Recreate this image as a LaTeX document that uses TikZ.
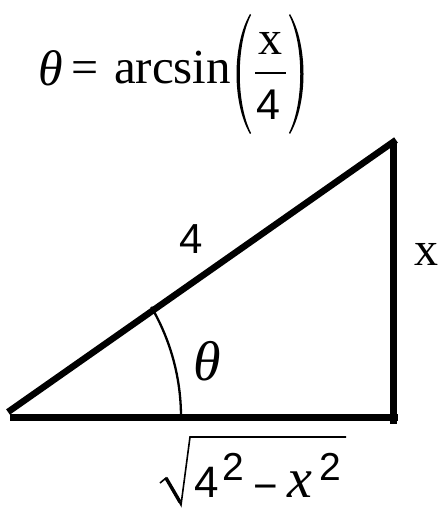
\documentclass[tikz,border=0pt]{standalone}
\usepackage{fontspec}
\setmainfont{Liberation Serif}
\newfontfamily\sansf{Liberation Sans}
\newcommand{\fsz}[1]{\fontsize{#1}{#1}\selectfont}
\begin{document}
\begin{tikzpicture}[x=1pt,y=-1pt,
  txt/.style={inner sep=0pt, outer sep=0pt, anchor=base west},
  heavy/.style={line width=7pt},
  thinarc/.style={line width=2.3pt}]
\useasboundingbox (0,0) rectangle (442,510);
% title
\node[txt, font=\fsz{50}\itshape] (th1) at (38,86) {θ};
\node[txt, font=\fsz{48}] (eq) at (71,84) {=};
\node[txt, font=\fsz{49}] (arcs) at (114,84) {arcsin};
\fill (250,14) .. controls (232,45) and (232,103) .. (250,134) -- (251,133) .. controls (236,103) and (236,45) .. (251,15) -- cycle;
\fill (290,14) .. controls (308,45) and (308,103) .. (290,134) -- (289,133) .. controls (304,103) and (304,45) .. (289,15) -- cycle;
\coordinate (fb1) at (255,73);
\coordinate (fb2) at (286,73);
\draw[line width=2pt] (fb1) -- (fb2);
\node[txt, font=\fsz{48}] (num) at (258,55) {x};
\node[txt, font=\sansf\fsz{43}] (den) at (256,120) {4};
% triangle
\coordinate (A) at (8,412);
\coordinate (T) at (396,140);
\coordinate (L) at (10,417);
\coordinate (R) at (398,417);
\coordinate (V1) at (393,143);
\coordinate (V2) at (393,424);
\draw[line width=6.5pt] (A) -- (T);
\draw[heavy] (V1) -- (V2);
\draw[heavy] (L) -- (R);
\coordinate (arcstart) at (181,417);
\draw[thinarc] (arcstart) arc[start angle=0, end angle=30.2, radius=219pt];
% labels
\node[txt, font=\sansf\fsz{42}] (hyp) at (179,253) {4};
\node[txt, font=\fsz{48}] (side) at (414,265) {x};
\node[txt, font=\fsz{56}\itshape] (ang) at (193,380) {θ};
% bottom sqrt
\coordinate (r1) at (160,483);
\coordinate (r2) at (166,478);
\coordinate (r3) at (181,505);
\coordinate (r3b) at (180,502);
\coordinate (r4) at (190,437);
\coordinate (r5) at (346,437);
\draw[line width=1.6pt, line join=miter] (r1) -- (r2) -- (r3) -- (r4) -- (r5);
\draw[line width=3.4pt] (r2) -- (r3b);
\node[txt, font=\sansf\fsz{44}] (b4) at (194,497) {4};
\node[txt, font=\sansf\fsz{39}] (b2a) at (222,480) {2};
\node[txt, font=\sansf\fsz{42}] (bm) at (253,500) {−};
\node[txt, font=\fsz{56}\itshape] (bx) at (287,497) {x};
\node[txt, font=\sansf\fsz{39}] (b2b) at (319,480) {2};
\end{tikzpicture}
\end{document}
